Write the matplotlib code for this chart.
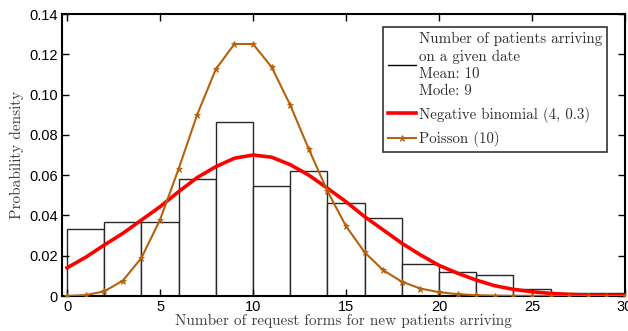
import numpy as np
import matplotlib
matplotlib.use("Agg")
import matplotlib.pyplot as plt
from matplotlib.font_manager import FontProperties

# histogram of arrivals (density, bin width 2)
bin_edges = [0, 2, 4, 6, 8, 10, 12, 14, 16, 18, 20, 22, 24, 26, 28, 30]
hist_density = [0.0334, 0.0369, 0.0369, 0.0583, 0.0866, 0.0546, 0.0619, 0.0460,
                0.0387, 0.0157, 0.0121, 0.0103, 0.0033, 0.0013, 0.0013]

# fitted curves evaluated at 0..30
k = list(range(31))
negbin = [0.0140, 0.0192, 0.0253, 0.0311, 0.0377, 0.0443, 0.0518, 0.0588, 0.0642,
          0.0684, 0.0700, 0.0689, 0.0652, 0.0600, 0.0535, 0.0468, 0.0394, 0.0328,
          0.0262, 0.0204, 0.0152, 0.0113, 0.0079, 0.0051, 0.0033, 0.0021, 0.0013,
          0.0008, 0.0005, 0.0003, 0.0002]
poisson = [0.00005, 0.00045, 0.0023, 0.0076, 0.0189, 0.0378, 0.0631, 0.0901, 0.1126,
           0.1251, 0.1251, 0.1137, 0.0948, 0.0729, 0.0521, 0.0347, 0.0217, 0.0128,
           0.0071, 0.0037, 0.0019, 0.0009, 0.0004, 0.0002, 0.0001, 0.00004, 0.00002,
           0.00001, 0.0, 0.0, 0.0]

hist_label = "Number of patients arriving\non a given date\nMean: 10\nMode: 9"
negbin_label = "Negative binomial (4, 0.3)"
poisson_label = "Poisson (10)"

serif = FontProperties(family="cmr10", size=10.8)
label_font = FontProperties(family="cmr10", size=11)
brown = "#b5620c"

fig = plt.figure(figsize=(6.28, 3.31), dpi=100)
ax = fig.add_axes([62 / 628, 1 - 296 / 331, (625 - 62) / 628, (296 - 14) / 331])

ax.bar(bin_edges[:-1], hist_density, width=2, align="edge", color="white",
       edgecolor="#282828", linewidth=1.0, zorder=1)
h_hist, = ax.plot([], [], color="black", linewidth=1.0)
h_nb, = ax.plot(k, negbin, color="#ff0000", linewidth=2.6, zorder=3,
                solid_joinstyle="round")
h_po, = ax.plot(k, poisson, color=brown, linewidth=1.5, marker="*",
                markersize=5, markeredgewidth=0.6, zorder=4)

ax.set_xlim(-0.27, 30)
ax.set_ylim(0, 0.14)
ax.set_xticks([0, 5, 10, 15, 20, 25, 30])
ax.set_yticks([0, 0.02, 0.04, 0.06, 0.08, 0.10, 0.12, 0.14])
ax.set_yticklabels(["0", "0.02", "0.04", "0.06", "0.08", "0.10", "0.12", "0.14"])
ax.tick_params(direction="in", top=True, right=True, length=5, width=1.0,
               labelsize=10.5, pad=3)
for lab in ax.get_xticklabels() + ax.get_yticklabels():
    lab.set_fontfamily("Liberation Sans")
for sp in ax.spines.values():
    sp.set_linewidth(1.5)

ax.set_xlabel("Number of request forms for new patients arriving",
              fontproperties=label_font, color="#404040", labelpad=0)
ax.set_ylabel("Probability density", fontproperties=label_font, color="#404040",
              labelpad=4)

leg = ax.legend([h_hist, h_nb, h_po], [hist_label, negbin_label, poisson_label],
                loc="upper right", bbox_to_anchor=(0.968, 0.955), prop=serif,
                frameon=True, fancybox=False, edgecolor="black",
                handlelength=1.9, handletextpad=0.15, borderpad=0.35,
                labelspacing=0.55, borderaxespad=0)
leg.get_frame().set_linewidth(1.2)
for t in leg.get_texts():
    t.set_color("#303030")
    t.set_linespacing(1.32)

fig.savefig("out.png", dpi=100)
